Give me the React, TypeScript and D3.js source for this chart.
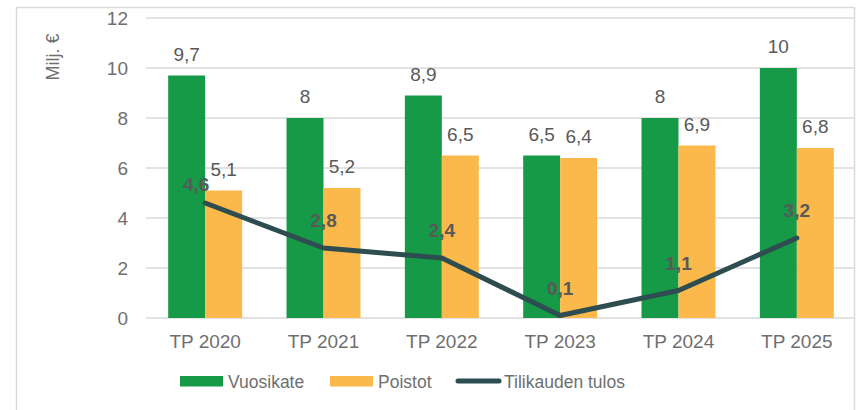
import { useEffect, useRef } from "react";
import * as d3 from "d3";

const categories = ["TP 2020", "TP 2021", "TP 2022", "TP 2023", "TP 2024", "TP 2025"];
const vuosikate = [9.7, 8, 8.9, 6.5, 8, 10];
const poistot = [5.1, 5.2, 6.5, 6.4, 6.9, 6.8];
const tulos = [4.6, 2.8, 2.4, 0.1, 1.1, 3.2];
const yTicks = [0, 2, 4, 6, 8, 10, 12];

const GREEN = "#169a48";
const ORANGE = "#fab94a";
const LINE = "#2e4d50";
const TEXT = "#6f6f6f";
const LABEL = "#595959";
const GRID = "#d9d9d9";
const FONT = "'Liberation Sans', Arial, sans-serif";

const fmt = (v: number) => String(v).replace(".", ",");

export default function App() {
  const ref = useRef<SVGSVGElement>(null);

  useEffect(() => {
    const svg = d3.select(ref.current);
    svg.selectAll("*").remove();

    const left = 146,
      right = 856,
      top = 18,
      bottom = 318;

    // outer frame
    svg
      .append("rect")
      .attr("x", 16.5)
      .attr("y", 7.5)
      .attr("width", 838)
      .attr("height", 420)
      .attr("fill", "white")
      .attr("stroke", GRID)
      .attr("stroke-width", 1.5);

    const x = d3.scaleBand().domain(categories).range([left, right]).paddingInner(0.375).paddingOuter(0.1875);
    const y = d3.scaleLinear().domain([0, 12]).range([bottom, top]);
    const bw = x.bandwidth() / 2;
    const cx = (c: string) => (x(c) as number) + x.bandwidth() / 2;

    // gridlines + y labels
    svg
      .append("g")
      .selectAll("line")
      .data(yTicks)
      .enter()
      .append("line")
      .attr("x1", left)
      .attr("x2", 855)
      .attr("y1", (d) => y(d))
      .attr("y2", (d) => y(d))
      .attr("stroke", GRID)
      .attr("stroke-width", 1.5);

    svg
      .append("g")
      .selectAll("text")
      .data(yTicks)
      .enter()
      .append("text")
      .attr("x", 128)
      .attr("y", (d) => y(d) + 7)
      .attr("text-anchor", "end")
      .attr("fill", TEXT)
      .style("font-size", "19px")
      .text((d) => d);

    svg
      .append("text")
      .attr("transform", "translate(59,57) rotate(-90)")
      .attr("text-anchor", "middle")
      .attr("fill", TEXT)
      .style("font-size", "18px")
      .text("Milj. €");

    // bars
    svg
      .append("g")
      .selectAll("rect")
      .data(vuosikate)
      .enter()
      .append("rect")
      .attr("x", (d, i) => x(categories[i]) as number)
      .attr("y", (d) => y(d))
      .attr("width", bw)
      .attr("height", (d) => bottom - y(d))
      .attr("fill", GREEN);

    svg
      .append("g")
      .selectAll("rect")
      .data(poistot)
      .enter()
      .append("rect")
      .attr("x", (d, i) => (x(categories[i]) as number) + bw)
      .attr("y", (d) => y(d))
      .attr("width", bw)
      .attr("height", (d) => bottom - y(d))
      .attr("fill", ORANGE);

    // bar labels
    svg
      .append("g")
      .selectAll("text")
      .data(vuosikate)
      .enter()
      .append("text")
      .attr("x", (d, i) => (x(categories[i]) as number) + bw / 2)
      .attr("y", (d) => y(d) - 15)
      .attr("text-anchor", "middle")
      .attr("fill", LABEL)
      .style("font-size", "19px")
      .text((d) => fmt(d));

    svg
      .append("g")
      .selectAll("text")
      .data(poistot)
      .enter()
      .append("text")
      .attr("x", (d, i) => (x(categories[i]) as number) + bw * 1.5)
      .attr("y", (d) => y(d) - 15)
      .attr("text-anchor", "middle")
      .attr("fill", LABEL)
      .style("font-size", "19px")
      .text((d) => fmt(d));

    // line
    const line = d3
      .line<number>()
      .x((d, i) => cx(categories[i]))
      .y((d) => y(d));
    svg
      .append("path")
      .datum(tulos)
      .attr("d", line)
      .attr("fill", "none")
      .attr("stroke", LINE)
      .attr("stroke-width", 5)
      .attr("stroke-linecap", "round")
      .attr("stroke-linejoin", "round");

    svg
      .append("g")
      .selectAll("text")
      .data(tulos)
      .enter()
      .append("text")
      .attr("x", (d, i) => cx(categories[i]) - (i === 0 ? 9 : 0))
      .attr("y", (d, i) => y(d) - (i === 0 ? 12 : 21))
      .attr("text-anchor", "middle")
      .attr("fill", LABEL)
      .style("font-size", "19px")
      .style("font-weight", "bold")
      .text((d) => fmt(d));

    // x labels
    svg
      .append("g")
      .selectAll("text")
      .data(categories)
      .enter()
      .append("text")
      .attr("x", (d) => cx(d))
      .attr("y", 348)
      .attr("text-anchor", "middle")
      .attr("fill", TEXT)
      .style("font-size", "19px")
      .text((d) => d);

    // legend
    const legend = svg.append("g").style("font-size", "17.5px").attr("fill", TEXT);
    legend.append("rect").attr("x", 180).attr("y", 376).attr("width", 43).attr("height", 10.5).attr("fill", GREEN);
    legend.append("text").attr("x", 228).attr("y", 387.5).text("Vuosikate");
    legend.append("rect").attr("x", 330).attr("y", 376).attr("width", 43).attr("height", 10.5).attr("fill", ORANGE);
    legend.append("text").attr("x", 378).attr("y", 387.5).text("Poistot");
    legend
      .append("line")
      .attr("x1", 458)
      .attr("x2", 499)
      .attr("y1", 381)
      .attr("y2", 381)
      .attr("stroke", LINE)
      .attr("stroke-width", 5)
      .attr("stroke-linecap", "round");
    legend.append("text").attr("x", 504).attr("y", 387.5).text("Tilikauden tulos");
  }, []);

  return (
    <svg
      ref={ref}
      width={857}
      height={410}
      style={{ position: "absolute", left: 0, top: 0, fontFamily: FONT, background: "white" }}
    />
  );
}
